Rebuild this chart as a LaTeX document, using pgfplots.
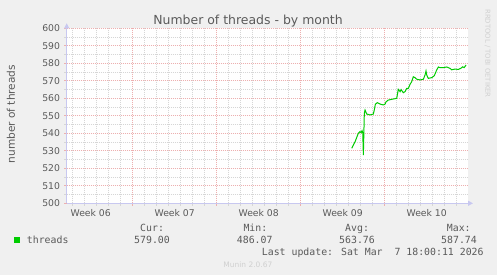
\documentclass[border=0pt]{standalone}
\usepackage{fontspec}
\usepackage{pgfplots}
\pgfplotsset{compat=1.18}
\usetikzlibrary{arrows.meta}
\setmainfont{DejaVu Sans}
\newfontfamily\mono{DejaVu Sans Mono}
\definecolor{bgc}{HTML}{F0F0F0}
\definecolor{txt}{HTML}{5A5A5A}
\definecolor{majg}{HTML}{EDB0B0}
\definecolor{ming}{HTML}{D6D6D6}
\definecolor{axc}{HTML}{C8C8F0}
\definecolor{linec}{HTML}{00CC00}
\definecolor{wm}{HTML}{D0D0D0}
\begin{document}
\begin{tikzpicture}[x=1bp,y=1bp]
\fill[bgc] (0,0) rectangle (497,275);
\begin{axis}[
 at={(66.7bp,71.7bp)}, anchor=south west,
 scale only axis, width=401.3bp, height=175bp,
 xmin=-5.5, xmax=27.94, ymin=500, ymax=600,
 axis x line=bottom, axis y line=left,
 axis line style={draw=axc, line width=0.8bp, -{Triangle[length=5bp,width=5bp]}, shorten >=-5bp},
 axis background/.style={fill=white},
 xtick={0,7,14,21}, xticklabels={},
 minor xtick={-5,-4,-3,-2,-1,1,2,3,4,5,6,8,9,10,11,12,13,15,16,17,18,19,20,22,23,24,25,26,27},
 extra x ticks={-3.5,3.5,10.5,17.5,24.5},
 extra x tick labels={Week 06,Week 07,Week 08,Week 09,Week 10},
 extra x tick style={grid=none, major tick length=0pt},
 ytick={500,510,...,600}, minor ytick={505,515,...,595},
 grid=both,
 major grid style={draw=majg, line width=0.75bp, dash pattern=on 1bp off 1bp},
 minor grid style={draw=ming, line width=0.75bp, dash pattern=on 1bp off 1bp},
 tick align=outside, major tick length=2.5bp, minor tick length=2.5bp,
 major tick style={draw=majg, line width=0.75bp}, minor tick style={draw=ming, line width=0.75bp},
 /pgf/number format/assume math mode=true,
 tick label style={font=\fontsize{9.3}{11}\selectfont, text=txt},
 yticklabel style={anchor=east, inner sep=0pt, xshift=-4bp},
 xticklabel style={anchor=base, inner sep=0pt, yshift=-12.7bp},
 clip=false,
]
\addplot[linec, line width=1bp] coordinates {
(18.25,531.4) (18.53,535.2) (18.8,540) (18.94,541) (19.03,540.3) (19.11,541.5)
(19.17,540.2) (19.22,527.6) (19.30,551.4) (19.36,553.3) (19.5,551) (19.78,550.5)
(20.05,551) (20.13,553.3) (20.22,556.6) (20.38,557.5) (20.61,556.7) (20.88,556.2)
(21.03,556.7) (21.11,558) (21.3,559) (21.44,559.2) (22.0,560) (22.13,565.1)
(22.28,563.8) (22.36,565) (22.55,563.2) (22.69,563.8) (22.83,565.7) (22.97,565.7)
(23.11,568) (23.25,569.5) (23.38,572.3) (23.52,571.8) (23.67,570.9) (23.94,570.5)
(24.22,570.9) (24.36,573.3) (24.44,575.6) (24.5,573.3) (24.63,571.4) (24.92,571.8)
(25.13,572.9) (25.33,576.2) (25.47,577.9) (25.61,577.5) (25.88,577.5) (26.17,577.9)
(26.44,577.1) (26.58,576.3) (26.86,576.7) (27.13,576.5) (27.33,577.1) (27.5,578)
(27.61,577.5) (27.78,579)
};
\end{axis}
\node[anchor=base, text=txt, font=\fontsize{12.5}{14}\selectfont] at (248,251) {Number of threads - by month};
\node[rotate=90, text=txt, font=\fontsize{10.6}{12}\selectfont] at (11,161) {number of threads};
\node[rotate=-90, text=wm, font=\fontsize{6.9}{8}\selectfont] at (487.7,221.5) {RRDTOOL / TOBI OETIKER};
\fill[linec] (14,32) rectangle (20,38);
\begin{scope}[every node/.style={anchor=base west, inner sep=0pt, text=txt, font=\mono\fontsize{9.9}{11}\selectfont}]
\node at (26.7,31.7) {threads};
\node at (140,43.1) {Cur:};
\node at (243.3,43.1) {Min:};
\node at (345,43.1) {Avg:};
\node at (446.7,43.1) {Max:};
\node at (134,31.7) {579.00};
\node at (236.7,31.7) {486.07};
\node at (339,31.7) {563.76};
\node at (441,31.7) {587.74};
\node at (261.7,20) {Last update: Sat Mar\ \ 7 18:00:11 2026};
\end{scope}
\node[anchor=base, text=wm, font=\fontsize{7.5}{9}\selectfont, inner sep=0pt] at (247.9,8) {Munin 2.0.67};
\end{tikzpicture}
\end{document}
